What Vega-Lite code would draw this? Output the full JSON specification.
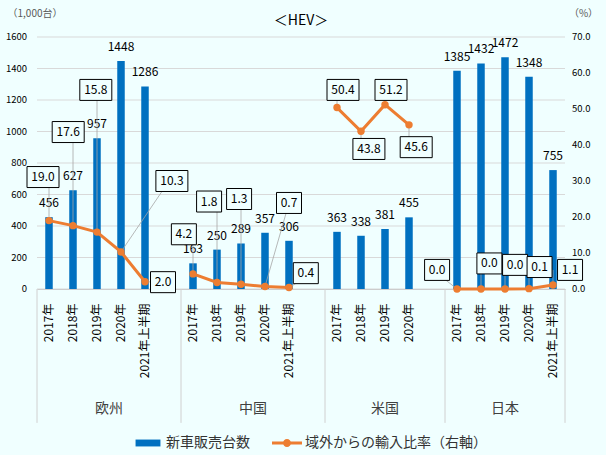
{
  "$schema": "https://vega.github.io/schema/vega-lite/v6.json",
  "width": 528,
  "height": 252,
  "autosize": {"type": "none"},
  "padding": {"left": 37, "top": 37, "right": 41, "bottom": 166},
  "background": "#F0FFFF",
  "title": {"text": "＜HEV＞", "fontSize": 14, "fontWeight": "normal", "color": "#000000", "anchor": "middle", "frame": "group", "offset": 10, "dy": 30},
  "datasets": {
    "hev": [
      {"key": "欧州|2017年", "region": "欧州", "sales": 456, "ratio": 19.0, "lkey": "欧州|2017年", "lshift": -0.25, "ly": 31.1},
      {"key": "欧州|2018年", "region": "欧州", "sales": 627, "ratio": 17.6, "lkey": "欧州|2018年", "lshift": -0.2, "ly": 43.6},
      {"key": "欧州|2019年", "region": "欧州", "sales": 957, "ratio": 15.8, "lkey": "欧州|2019年", "lshift": -0.05, "ly": 55.3},
      {"key": "欧州|2020年", "region": "欧州", "sales": 1448, "ratio": 10.3, "lkey": "欧州|", "lshift": 0.12, "ly": 30.0},
      {"key": "欧州|2021年上半期", "region": "欧州", "sales": 1286, "ratio": 2.0, "lkey": "欧州|", "lshift": -0.25, "ly": 1.9},
      {"key": "中国|2017年", "region": "中国", "sales": 163, "ratio": 4.2, "lkey": "中国|2017年", "lshift": -0.38, "ly": 15.2},
      {"key": "中国|2018年", "region": "中国", "sales": 250, "ratio": 1.8, "lkey": "中国|2018年", "lshift": -0.33, "ly": 24.3},
      {"key": "中国|2019年", "region": "中国", "sales": 289, "ratio": 1.3, "lkey": "中国|2019年", "lshift": -0.08, "ly": 25.0},
      {"key": "中国|2020年", "region": "中国", "sales": 357, "ratio": 0.7, "lkey": "中国|2021年上半期", "lshift": 0, "ly": 23.9},
      {"key": "中国|2021年上半期", "region": "中国", "sales": 306, "ratio": 0.4, "lkey": "中国|", "lshift": -0.3, "ly": 4.4},
      {"key": "米国|2017年", "region": "米国", "sales": 363, "ratio": 50.4, "lkey": "米国|2017年", "lshift": 0.25, "ly": 55.3},
      {"key": "米国|2018年", "region": "米国", "sales": 338, "ratio": 43.8, "lkey": "米国|2018年", "lshift": 0.33, "ly": 38.9},
      {"key": "米国|2019年", "region": "米国", "sales": 381, "ratio": 51.2, "lkey": "米国|2019年", "lshift": 0.25, "ly": 55.3},
      {"key": "米国|2020年", "region": "米国", "sales": 455, "ratio": 45.6, "lkey": "米国|2020年", "lshift": 0.3, "ly": 39.4},
      {"key": "日本|2017年", "region": "日本", "sales": 1385, "ratio": 0.0, "lkey": "米国|", "lshift": 0.17, "ly": 5.3},
      {"key": "日本|2018年", "region": "日本", "sales": 1432, "ratio": 0.0, "lkey": "日本|2018年", "lshift": 0.35, "ly": 7.1},
      {"key": "日本|2019年", "region": "日本", "sales": 1472, "ratio": 0.0, "lkey": "日本|2019年", "lshift": 0.42, "ly": 6.7},
      {"key": "日本|2020年", "region": "日本", "sales": 1348, "ratio": 0.1, "lkey": "日本|2020年", "lshift": 0.44, "ly": 6.1},
      {"key": "日本|2021年上半期", "region": "日本", "sales": 755, "ratio": 1.1, "lkey": "日本|2021年上半期", "lshift": 0.71, "ly": 5.3}
    ],
    "leftTicks": [{"v": 0}, {"v": 200}, {"v": 400}, {"v": 600}, {"v": 800}, {"v": 1000}, {"v": 1200}, {"v": 1400}, {"v": 1600}],
    "rightTicks": [{"v": 0}, {"v": 10}, {"v": 20}, {"v": 30}, {"v": 40}, {"v": 50}, {"v": 60}, {"v": 70}]
  },
  "data": {"name": "hev"},
  "layer": [
    {
      "layer": [
        {
          "data": {"name": "leftTicks"},
          "mark": {"type": "rule", "color": "#D9D9D9", "strokeWidth": 1},
          "encoding": {
            "y": {"field": "v", "type": "quantitative"}
          }
        },
        {
          "data": {"name": "leftTicks"},
          "mark": {"type": "text", "align": "right", "baseline": "middle", "dx": -10, "fontSize": 9.5, "color": "#000000"},
          "encoding": {
            "x": {"datum": "欧州|2017年", "type": "nominal", "bandPosition": 0},
            "y": {"field": "v", "type": "quantitative"},
            "text": {"field": "v", "type": "quantitative", "format": "d"}
          }
        },
        {
          "mark": {"type": "bar", "width": 7.5},
          "encoding": {
            "x": {
              "field": "key", "type": "nominal", "sort": null, "title": null,
              "scale": {"domain": ["欧州|2017年", "欧州|2018年", "欧州|2019年", "欧州|2020年", "欧州|2021年上半期", "欧州|", "中国|2017年", "中国|2018年", "中国|2019年", "中国|2020年", "中国|2021年上半期", "中国|", "米国|2017年", "米国|2018年", "米国|2019年", "米国|2020年", "米国|", "日本|2017年", "日本|2018年", "日本|2019年", "日本|2020年", "日本|2021年上半期"], "paddingInner": 0, "paddingOuter": 0},
              "axis": {"labelExpr": "split(datum.label, '|')[1]", "labelAngle": 270, "labelFontSize": 12, "labelColor": "#000000", "ticks": false, "tickSize": 0, "labelPadding": 14, "domainColor": "#BFBFBF", "grid": false, "labelOverlap": false}
            },
            "y": {
              "field": "sales", "type": "quantitative",
              "scale": {"domain": [0, 1600], "nice": false},
              "axis": {"labels": false, "grid": false, "domain": false, "ticks": false, "title": "（1,000台）", "titleAngle": 0, "titleAlign": "left", "titleBaseline": "middle", "titleX": -30, "titleY": -24, "titleFontSize": 10, "titleFontWeight": "normal", "titleColor": "#595959"}
            },
            "color": {
              "datum": "新車販売台数", "type": "nominal",
              "scale": {"domain": ["新車販売台数", "域外からの輸入比率（右軸）"], "range": ["#0070C0", "#ED7D31"]},
              "legend": {
                "orient": "none", "legendX": 96, "legendY": 391, "direction": "horizontal", "title": null,
                "symbolSize": 900, "labelFontSize": 14, "labelColor": "#333333", "labelLimit": 400, "columnPadding": 22, "labelOffset": 3, "padding": 0,
                "encode": {"symbols": {"update": {
                  "shape": {"signal": "datum.value === '新車販売台数' ? 'M-0.83,-0.23H0.83V0.23H-0.83Z' : 'M-1,-0.1H1V0.1H-1Z M-0.27,0A0.27,0.27 0 1,1 0.27,0A0.27,0.27 0 1,1 -0.27,0Z'"},
                  "fill": {"scale": "color", "field": "value"},
                  "strokeWidth": {"value": 0}
                }}}
              }
            }
          }
        },
        {
          "mark": {"type": "text", "dy": -14, "fontSize": 12, "color": "#000000"},
          "encoding": {
            "x": {"field": "key", "type": "nominal", "sort": null},
            "y": {"field": "sales", "type": "quantitative"},
            "text": {"field": "sales", "type": "quantitative", "format": "d"}
          }
        },
        {
          "data": {"values": [{"key": "欧州|2017年"}, {"key": "中国|2017年"}, {"key": "米国|2017年"}, {"key": "日本|2017年"}]},
          "mark": {"type": "rule", "color": "#D0D0D0", "strokeWidth": 1},
          "encoding": {
            "x": {"field": "key", "type": "nominal", "sort": null, "bandPosition": 0},
            "y": {"datum": 0, "type": "quantitative"},
            "y2": {"datum": -850}
          }
        },
        {
          "data": {"values": [{"key": "日本|2021年上半期"}]},
          "mark": {"type": "rule", "color": "#D0D0D0", "strokeWidth": 1},
          "encoding": {
            "x": {"field": "key", "type": "nominal", "sort": null, "bandPosition": 1},
            "y": {"datum": 0, "type": "quantitative"},
            "y2": {"datum": -850}
          }
        },
        {
          "data": {"values": [{"key": "欧州|2020年", "region": "欧州"}, {"key": "中国|2020年", "region": "中国"}]},
          "mark": {"type": "text", "fontSize": 14, "color": "#404040", "baseline": "middle"},
          "encoding": {
            "x": {"field": "key", "type": "nominal", "sort": null, "bandPosition": 0},
            "y": {"datum": -765, "type": "quantitative"},
            "text": {"field": "region"}
          }
        },
        {
          "data": {"values": [{"key": "米国|2019年", "region": "米国"}, {"key": "日本|2019年", "region": "日本"}]},
          "mark": {"type": "text", "fontSize": 14, "color": "#404040", "baseline": "middle"},
          "encoding": {
            "x": {"field": "key", "type": "nominal", "sort": null},
            "y": {"datum": -765, "type": "quantitative"},
            "text": {"field": "region"}
          }
        }
      ]
    },
    {
      "layer": [
        {
          "data": {"name": "rightTicks"},
          "mark": {"type": "text", "align": "left", "baseline": "middle", "dx": 7, "fontSize": 9.5, "color": "#000000"},
          "encoding": {
            "x": {"datum": "日本|2021年上半期", "type": "nominal", "bandPosition": 1},
            "y": {
              "field": "v", "type": "quantitative",
              "scale": {"domain": [0, 70], "nice": false},
              "axis": {"orient": "right", "labels": false, "grid": false, "domain": false, "ticks": false, "title": "（%）", "titleAngle": 0, "titleAlign": "center", "titleBaseline": "middle", "titleX": 18, "titleY": -24, "titleFontSize": 10, "titleFontWeight": "normal", "titleColor": "#595959"}
            },
            "text": {"field": "v", "type": "quantitative", "format": ".1f"}
          }
        },
        {
          "mark": {"type": "rule", "color": "#A6A6A6", "strokeWidth": 0.8},
          "encoding": {
            "x": {"field": "key", "type": "nominal", "sort": null},
            "x2": {"field": "lkey"},
            "y": {"field": "ratio", "type": "quantitative"},
            "y2": {"field": "ly"}
          }
        },
        {
          "mark": {"type": "line", "strokeWidth": 3, "point": {"filled": true, "size": 55}},
          "encoding": {
            "x": {"field": "key", "type": "nominal", "sort": null},
            "y": {"field": "ratio", "type": "quantitative"},
            "detail": {"field": "region"},
            "color": {"datum": "域外からの輸入比率（右軸）", "type": "nominal"}
          }
        },
        {
          "transform": [{"filter": "datum.ratio >= 10"}],
          "mark": {"type": "point", "shape": "M-1,-0.656H1V0.656H-1Z", "size": 1024, "filled": true, "fill": "#F0FFFF", "stroke": "#000000", "strokeWidth": 1, "opacity": 1},
          "encoding": {
            "x": {"field": "lkey", "type": "nominal", "sort": null},
            "xOffset": {"field": "lshift", "type": "quantitative", "scale": {"domain": [-1, 1], "range": [-12, 36]}},
            "y": {"field": "ly", "type": "quantitative"}
          }
        },
        {
          "transform": [{"filter": "datum.ratio < 10"}],
          "mark": {"type": "point", "shape": "M-1,-0.84H1V0.84H-1Z", "size": 625, "filled": true, "fill": "#F0FFFF", "stroke": "#000000", "strokeWidth": 1, "opacity": 1},
          "encoding": {
            "x": {"field": "lkey", "type": "nominal", "sort": null},
            "xOffset": {"field": "lshift", "type": "quantitative"},
            "y": {"field": "ly", "type": "quantitative"}
          }
        },
        {
          "mark": {"type": "text", "fontSize": 12, "color": "#000000"},
          "encoding": {
            "x": {"field": "lkey", "type": "nominal", "sort": null},
            "xOffset": {"field": "lshift", "type": "quantitative"},
            "y": {"field": "ly", "type": "quantitative"},
            "text": {"field": "ratio", "type": "quantitative", "format": ".1f"}
          }
        }
      ]
    }
  ],
  "resolve": {"scale": {"y": "independent"}},
  "config": {
    "font": "Noto Sans CJK JP",
    "view": {"stroke": null}
  }
}
